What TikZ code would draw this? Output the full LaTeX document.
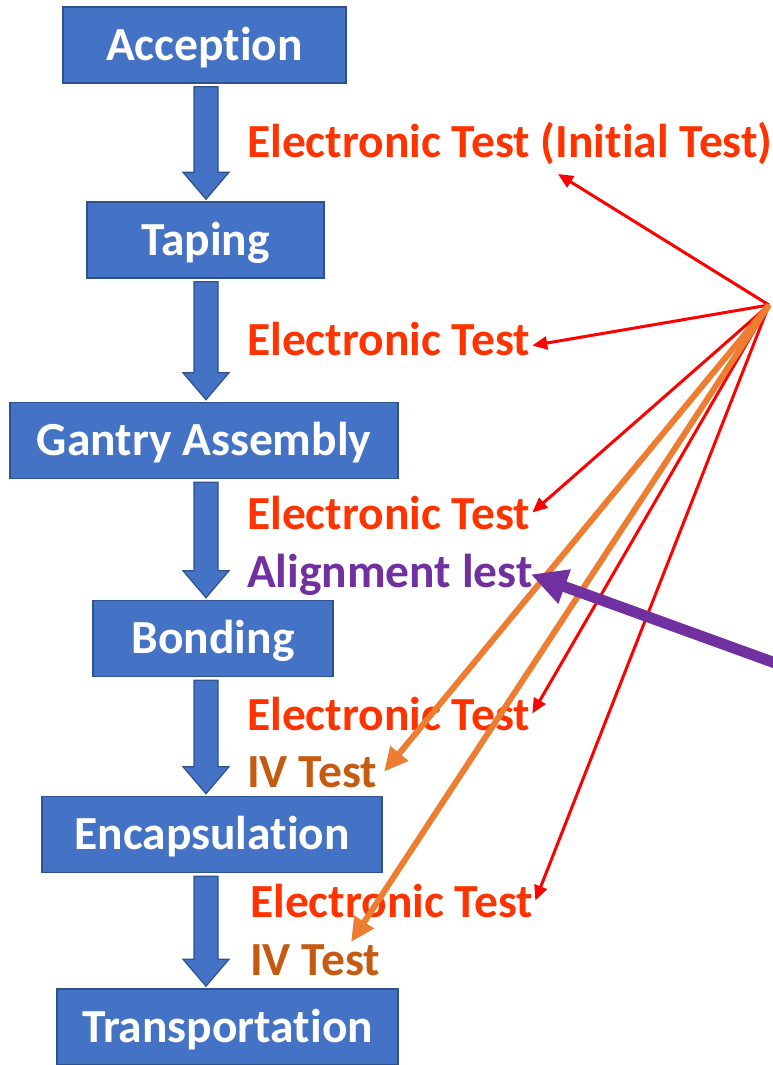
\documentclass[tikz,border=0pt]{standalone}
\usepackage{fontspec}
\setmainfont{Carlito}[Ligatures=NoCommon]
\usetikzlibrary{positioning,calc,arrows.meta}

\definecolor{boxblue}{HTML}{4472C4}
\definecolor{boxedge}{HTML}{2F528F}
\definecolor{testred}{HTML}{FF3300}
\definecolor{linered}{HTML}{FF0000}
\definecolor{ivbrown}{HTML}{C55A11}
\definecolor{ivorange}{HTML}{ED7D31}
\definecolor{alignpurple}{HTML}{7030A0}

\begin{document}
\begin{tikzpicture}[x=1pt,y=-1pt]
	\tikzstyle{stage}=[rectangle, draw=boxedge, line width=1.5pt, fill=boxblue, text=white, font=\bfseries\fontsize{47.5}{52}\selectfont, text height=30.5pt, text depth=0pt, minimum height=76pt, inner sep=0pt]
	\tikzstyle{flow}=[draw=boxedge, line width=1.2pt, fill=boxblue, to path={let \p1=(\tikztostart), \p2=(\tikztotarget) in (\x1-12,\y1-3) -- (\x1+12,\y1-3) -- (\x1+12,\y2+29) -- (\x1+23,\y2+29) -- (\x1,\y2+2) -- (\x1-23,\y2+29) -- (\x1-12,\y2+29) -- cycle}]
	\tikzstyle{test}=[anchor=base west, inner sep=2pt, font=\bfseries\fontsize{47.5}{52}\selectfont]
	\tikzstyle{elec}=[-{Triangle[length=15pt,width=13pt]}, linered, line width=3pt]
	\tikzstyle{iv}=[-{Triangle[length=24pt,width=22pt]}, ivorange, line width=6pt]
	\tikzstyle{align}=[-{Triangle[length=36pt,width=34pt]}, alignpurple, line width=11pt]
	\useasboundingbox (0,0) rectangle (773,1065);
	% process stages
	\node[stage, minimum width=283pt] (accept) at (204.5,45) {Acception};
	\node[stage, minimum width=237pt] (taping) at (205.5,240) {Taping};
	\node[stage, minimum width=388pt] (gantry) at (204,440.5) {Gantry Assembly};
	\node[stage, minimum width=240pt] (bond) at (213,638.5) {Bonding};
	\node[stage, minimum width=340pt] (encap) at (212,834.5) {Encapsulation};
	\node[stage, minimum width=341pt] (transport) at (227.5,1027) {Transportation};
	\coordinate (axis) at (206,0);
	\draw[flow] (accept.south -| axis) to (taping.north -| axis);
	\draw[flow] (taping.south -| axis) to (gantry.north -| axis);
	\draw[flow] (gantry.south -| axis) to (bond.north -| axis);
	\draw[flow] (bond.south -| axis) to (encap.north -| axis);
	\draw[flow] (encap.south -| axis) to (transport.north -| axis);
	% tests between the stages
	\node[test, text=testred] (init) at (245,157) {Electronic Test (Initial Test)};
	\node[test, text=testred] (et2) at (245,355) {Electronic Test};
	\node[test, text=testred] (et3) at (245,529) {Electronic Test};
	\node[test, text=alignpurple] (align) at (245,587) {Alignment lest};
	\node[test, text=testred] (et4) at (245,730) {Electronic Test};
	\node[test, text=ivbrown] (iv1) at (245,787) {IV Test};
	\node[test, text=testred] (et5) at (248,917) {Electronic Test};
	\node[test, text=ivbrown] (iv2) at (248,975) {IV Test};
	% pointers
	\coordinate (hub) at (769,305);
	\coordinate (pin) at (800,672);
	\draw[elec] (hub) -- ($(init.base west)+(313,17)$);
	\draw[elec] (hub) -- ([yshift=-7pt]et2.east);
	\draw[elec] (hub) -- (et3.east);
	\draw[elec] (hub) -- (et4.east);
	\draw[elec] (hub) -- (et5.east);
	\draw[iv] (hub) -- ([xshift=5pt]iv1.east);
	\draw[iv] (hub) -- ([xshift=36pt]iv2.north);
	\draw[align] (pin) -- ([xshift=-4pt]align.east);
\end{tikzpicture}
\end{document}
